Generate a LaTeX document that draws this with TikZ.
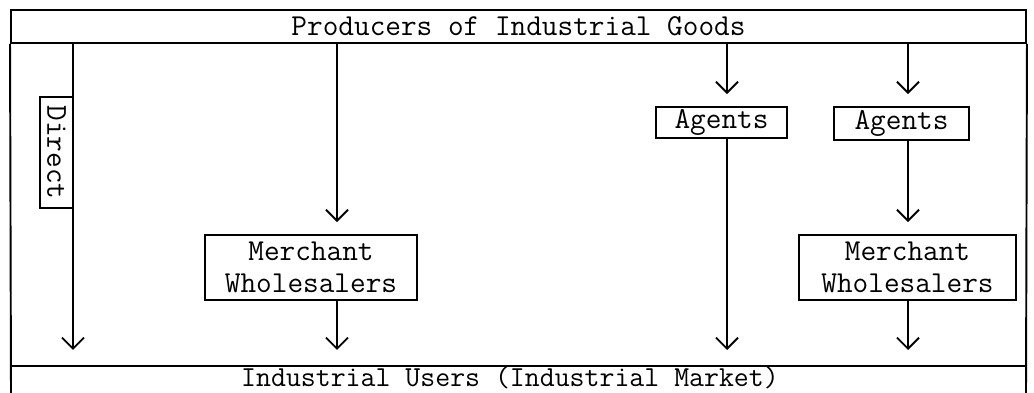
\documentclass[tikz,border=0pt]{standalone}
\usepackage{tikz}
\usetikzlibrary{arrows.meta}

\begin{document}
\begin{tikzpicture}[x=0.2mm,y=0.2mm,
    txt/.style={font=\ttfamily\fontsize{17.3}{18.1}\selectfont},
    band/.style={txt,draw,line width=1.1pt,inner sep=0pt,minimum width=203mm,minimum height=6.6mm},
    box/.style={txt,draw,line width=1.1pt,inner sep=0pt,align=center},
    arr/.style={-{Straight Barb[length=2.2mm,width=4.4mm]},line width=1.1pt}]
    \useasboundingbox (0,0) rectangle (1034,393);
    % top and bottom bands
    \node[band] (prod) at (518.5,366.5) {Producers of Industrial Goods};
    \coordinate (ubl) at (11,27);
    \coordinate (ubr) at (1026,27);
    \draw[line width=1.1pt] (prod.south west) -- (11,0);
    \draw[line width=1.1pt] (prod.south east) -- (1026,0);
    \draw[line width=1.1pt] (ubl) -- (ubr);
    \node[font=\ttfamily\fontsize{16.5}{18}\selectfont,anchor=base,inner sep=0pt] (users) at (510,6) {Industrial Users (Industrial Market)};
    % channels
    \node[box,rotate=-90,minimum width=22.2mm,minimum height=6.6mm] (direct) at (56.5,240.5) {Direct};
    \node[box,minimum width=42.4mm,minimum height=13mm] (merch1) at (311,125.5) {Merchant\\Wholesalers};
    \node[box,minimum width=26.2mm,minimum height=6.2mm] (agents1) at (721.5,270.5) {Agents};
    \node[box,minimum width=27mm,minimum height=6.6mm] (agents2) at (901.5,269.5) {Agents};
    \node[box,minimum width=43.4mm,minimum height=13mm] (merch2) at (907.5,125.5) {Merchant\\Wholesalers};
    \coordinate (xd) at (73,0);
    \coordinate (xm1) at (337,0);
    \coordinate (xa1) at (727,0);
    \coordinate (xa2) at (908,0);
    % flows
    \draw[arr,shorten >=3.2mm] (prod.south -| xd) -- (ubl -| xd);
    \draw[arr,shorten >=2.4mm] (prod.south -| xm1) -- (merch1.north -| xm1);
    \draw[arr,shorten >=3.2mm] (merch1.south -| xm1) -- (ubl -| xm1);
    \draw[arr,shorten >=2.4mm] (prod.south -| xa1) -- (agents1.north -| xa1);
    \draw[arr,shorten >=3.2mm] (agents1.south -| xa1) -- (ubl -| xa1);
    \draw[arr,shorten >=2.4mm] (prod.south -| xa2) -- (agents2.north -| xa2);
    \draw[arr,shorten >=2.4mm] (agents2.south -| xa2) -- (merch2.north -| xa2);
    \draw[arr,shorten >=3.2mm] (merch2.south -| xa2) -- (ubl -| xa2);
\end{tikzpicture}
\end{document}
